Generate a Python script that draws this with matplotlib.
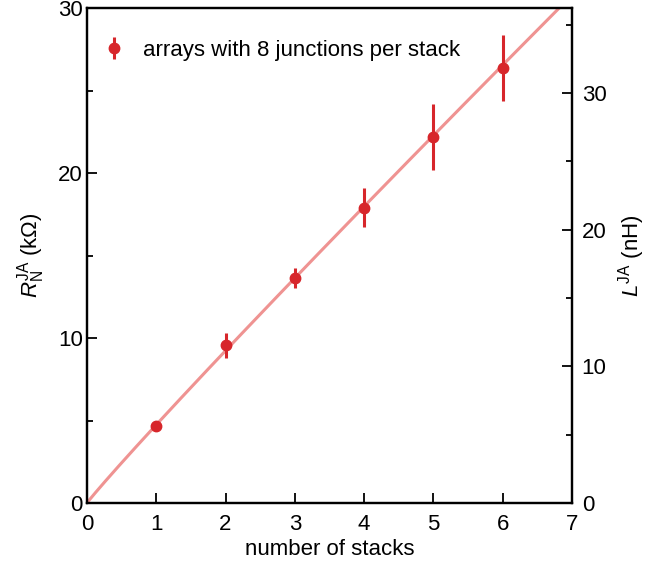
import numpy as np
import matplotlib
matplotlib.use("Agg")
import matplotlib.pyplot as plt

# data
stacks = [1, 2, 3, 4, 5, 6]
resistance = [4.65, 9.55, 13.65, 17.9, 22.2, 26.35]   # kOhm
res_err = [0.2, 0.75, 0.62, 1.2, 2.0, 2.0]
nh_per_kohm = 1.207
legend_label = "arrays with 8 junctions per stack"

plt.rcParams['font.family'] = ['Liberation Sans', 'DejaVu Sans']
plt.rcParams['mathtext.fontset'] = 'custom'
plt.rcParams['mathtext.rm'] = 'Liberation Sans'
plt.rcParams['mathtext.it'] = 'Liberation Sans:italic'
plt.rcParams['font.size'] = 16

fig = plt.figure(figsize=(6.68, 5.72), dpi=100)
ax = fig.add_axes([0.1302, 0.1206, 0.7261, 0.8654])

red = '#d7262b'
line_c = '#ef9392'

# power-law fit R = a * n^b (log-log least squares)
n = np.array(stacks, float)
r = np.array(resistance, float)
b, loga = np.polyfit(np.log(n), np.log(r), 1)
xf = np.linspace(0, 7, 400)
ax.plot(xf, np.exp(loga) * xf**b, color=line_c, lw=2.2, zorder=1)

ax.errorbar(stacks, resistance, yerr=res_err, fmt='o', color=red, ms=7.5,
            elinewidth=2.2, capsize=0, zorder=3, label=legend_label)

ax.set_xlim(0, 7)
ax.set_ylim(0, 30)
ax.set_xticks(range(0, 8))
ax.set_yticks([0, 10, 20, 30])
ax.set_yticks([5, 15, 25], minor=True)
ax.tick_params(axis='both', which='both', direction='in', width=1.3)
ax.tick_params(axis='both', which='major', length=7)
ax.tick_params(axis='both', which='minor', length=4)
ax.tick_params(axis='x', pad=8)
ax.tick_params(axis='y', pad=3)
for s in ax.spines.values():
    s.set_linewidth(1.6)

ax.set_xlabel("number of stacks", labelpad=3)
ax.set_ylabel(r"$R_\mathrm{N}^\mathrm{JA}$ (k$\Omega$)", labelpad=8)

ax2 = ax.twinx()
ax2.set_ylim(0, 30*nh_per_kohm)
ax2.set_yticks([0, 10, 20, 30])
ax2.set_yticks([5, 15, 25, 35], minor=True)
ax2.tick_params(axis='y', which='both', direction='in', width=1.3, pad=7)
ax2.tick_params(axis='y', which='major', length=7)
ax2.tick_params(axis='y', which='minor', length=4)
for s in ax2.spines.values():
    s.set_linewidth(1.6)
ax2.set_ylabel(r"$L^\mathrm{JA}$ (nH)", labelpad=7)

ax.legend(loc='upper left', bbox_to_anchor=(0.0, 0.976), frameon=False,
          handlelength=0.6, handletextpad=1.0, borderaxespad=0.5)

fig.savefig("out.png", dpi=100)
